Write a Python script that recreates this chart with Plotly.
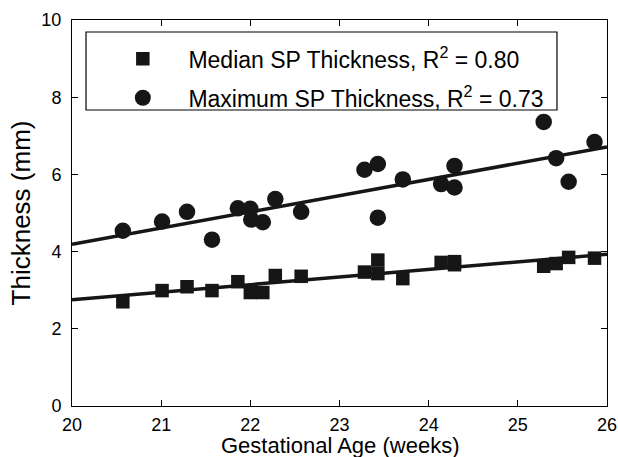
import plotly.graph_objects as go

# Gestational age (weeks) for each fetus
gest_age = [20.57, 21.01, 21.29, 21.57, 21.86, 22.00, 22.01, 22.14, 22.28, 22.57,
            23.28, 23.43, 23.43, 23.71, 24.14, 24.29, 24.29, 25.29, 25.43, 25.57, 25.86]
# Median SP thickness (mm)
median_thickness = [2.70, 2.99, 3.09, 2.99, 3.22, 2.94, 2.96, 2.94, 3.38, 3.36,
                    3.47, 3.78, 3.43, 3.30, 3.72, 3.74, 3.66, 3.62, 3.69, 3.85, 3.83]
# Maximum SP thickness (mm)
max_thickness = [4.54, 4.78, 5.03, 4.31, 5.12, 5.11, 4.83, 4.76, 5.36, 5.03,
                 6.12, 6.27, 4.88, 5.87, 5.75, 6.22, 5.66, 7.36, 6.42, 5.81, 6.84]
# Regression lines (endpoints)
fit_x = [20, 26]
median_fit = [2.75, 3.93]
max_fit = [4.19, 6.71]

x_ticks = [20, 21, 22, 23, 24, 25, 26]
y_ticks = [0, 2, 4, 6, 8, 10]

MARK = "#161616"
NB = "\u00a0"
FONT = "Liberation Sans, Arial, Helvetica, sans-serif"

fig = go.Figure()
fig.add_trace(go.Scatter(x=fit_x, y=median_fit, mode="lines",
                         line=dict(color=MARK, width=3.5), showlegend=False, hoverinfo="skip"))
fig.add_trace(go.Scatter(x=fit_x, y=max_fit, mode="lines",
                         line=dict(color=MARK, width=3.5), showlegend=False, hoverinfo="skip"))
fig.add_trace(go.Scatter(x=gest_age, y=median_thickness, mode="markers",
                         marker=dict(symbol="square", size=13.5, color=MARK),
                         name=NB * 4 + "Median SP Thickness, R<sup>2</sup> = 0.80",
                         legendgroup="a"))
fig.add_trace(go.Scatter(x=gest_age, y=max_thickness, mode="markers",
                         marker=dict(symbol="circle", size=16.5, color=MARK),
                         name=NB * 4 + "Maximum SP Thickness, R<sup>2</sup> = 0.73",
                         legendgroup="b"))

axis_common = dict(showline=True, linecolor="black", linewidth=1, mirror="ticks",
                   ticks="inside", ticklen=6, tickcolor="black", showgrid=False,
                   zeroline=False, automargin=False, tickfont=dict(size=18))

# Legend frame (layout decoration)
fig.add_shape(type="rect", xref="paper", yref="paper",
              x0=0.0262, x1=0.9065, y0=0.7668, y1=0.9689,
              line=dict(color="black", width=1.2), fillcolor="white", layer="above")

# x-axis title as an annotation placed just under the tick labels
fig.add_annotation(text="Gestational Age (weeks)", xref="paper", yref="paper",
                   x=0.5, y=0, xanchor="center", yanchor="top", yshift=-25,
                   showarrow=False, font=dict(size=22))

fig.update_layout(
    width=618, height=457,
    margin=dict(l=72, r=11, t=20, b=51),
    paper_bgcolor="white", plot_bgcolor="white",
    font=dict(family=FONT, size=22, color="black"),
    xaxis=dict(range=[20, 26], tickvals=x_ticks, ticktext=[str(v) for v in x_ticks],
               ticklabelstandoff=2, **axis_common),
    yaxis=dict(range=[0, 10], tickvals=y_ticks, ticktext=[str(v) for v in y_ticks],
               ticklabelstandoff=6,
               title=dict(text="Thickness (mm)", standoff=3), **axis_common),
    legend=dict(x=0.095, y=0.955, xanchor="left", yanchor="top",
                borderwidth=0, bgcolor="rgba(0,0,0,0)",
                font=dict(size=23), tracegroupgap=6, itemsizing="trace"),
)

fig.write_html("out.html", config={"displayModeBar": False, "staticPlot": True},
               post_script="document.body.style.margin='0px';document.body.style.padding='0px';")
